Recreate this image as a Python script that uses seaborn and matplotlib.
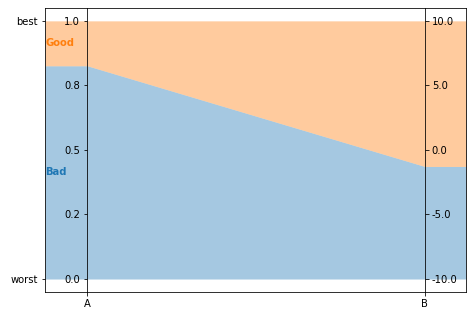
import matplotlib
matplotlib.use("Agg")
import matplotlib.pyplot as plt
import seaborn as sns
import numpy as np

# ---- data ----
axis_names = ["A", "B"]
bad_level = [0.826, 0.436]          # top of the "Bad" band on the normalised scale
good_level = [1.0, 1.0]             # top of the "Good" band
left_ticks = [0.0, 0.25, 0.5, 0.75, 1.0]
right_ticks = [-10.0, -5.0, 0.0, 5.0, 10.0]
outer_ticks = [0.0, 1.0]
outer_labels = ["worst", "best"]
band_names = ["Bad", "Good"]

palette = sns.color_palette("tab10")
c_bad, c_good = palette[0], palette[1]

fig = plt.figure(figsize=(474 / 72, 318 / 72), dpi=72)
ax = fig.add_axes([0.095, 0.082, 0.888, 0.893])

xlim = (-0.125, 1.122)
ylim = (-0.05, 1.05)
xpos = list(range(len(axis_names)))

fx = [xlim[0]] + xpos + [xlim[1]]
fbad = [bad_level[0]] + bad_level + [bad_level[-1]]
fgood = [good_level[0]] + good_level + [good_level[-1]]

ax.fill_between(fx, 0, fbad, color=c_bad, alpha=0.4, lw=0)
ax.fill_between(fx, fbad, fgood, color=c_good, alpha=0.4, lw=0)

ax.set_xlim(*xlim)
ax.set_ylim(*ylim)
ax.set_xticks(xpos)
ax.set_xticklabels(axis_names)
ax.set_yticks(outer_ticks)
ax.set_yticklabels(outer_labels)

ax.text(xlim[0], (bad_level[0] + good_level[0]) / 2, band_names[1], color=c_good,
        fontweight="bold", fontsize=10, ha="left", va="center")
ax.text(xlim[0], bad_level[0] / 2, band_names[0], color=c_bad,
        fontweight="bold", fontsize=10, ha="left", va="center")

# axis A
axA = ax.twinx()
for s in ["top", "bottom", "right"]:
    axA.spines[s].set_visible(False)
axA.spines["left"].set_position(("data", 0))
axA.yaxis.set_ticks_position("left")
axA.set_ylim(*ylim)
axA.set_yticks(left_ticks)
axA.set_yticklabels([f"{v:.1f}" for v in left_ticks])

# axis B
axB = ax.twinx()
for s in ["top", "bottom", "left"]:
    axB.spines[s].set_visible(False)
axB.spines["right"].set_position(("data", 1))
axB.yaxis.set_ticks_position("right")
span = right_ticks[-1] - right_ticks[0]
axB.set_ylim(right_ticks[0] + ylim[0] * span, right_ticks[0] + ylim[1] * span)
axB.set_yticks(right_ticks)
axB.set_yticklabels([f"{v:.1f}" for v in right_ticks])

fig.savefig("out.png", dpi=72)
